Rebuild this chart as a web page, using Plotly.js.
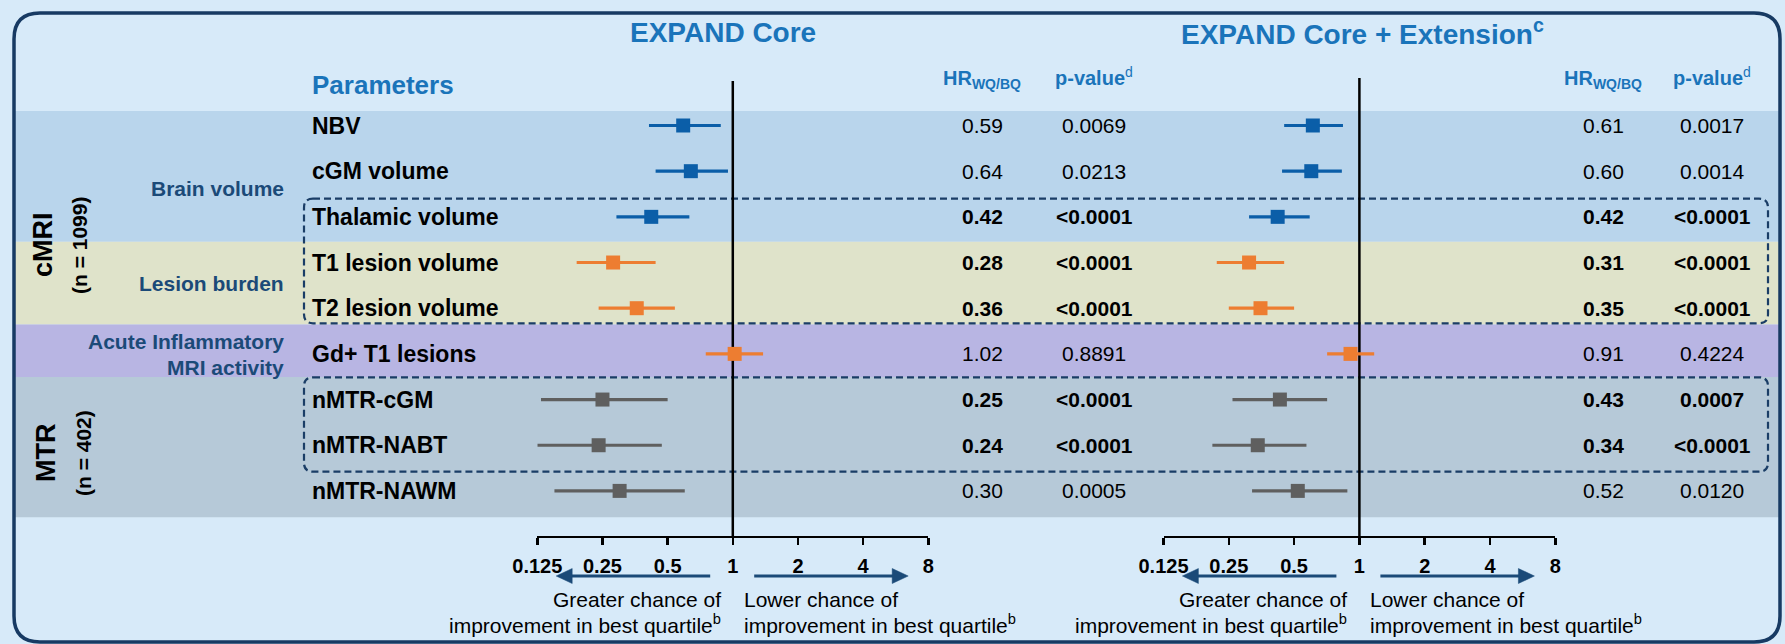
<!DOCTYPE html>
<html><head><meta charset="utf-8">
<script src="https://cdn.plot.ly/plotly-3.0.1.min.js"></script>
<style>html,body{margin:0;padding:0;background:#D7EAF9;overflow:hidden}#chart{width:1785px;height:644px}</style>
</head><body><div id="chart"></div>
<script>
// ---------------- data ----------------
const params = ['NBV','cGM volume','Thalamic volume','T1 lesion volume','T2 lesion volume','Gd+ T1 lesions','nMTR-cGM','nMTR-NABT','nMTR-NAWM'];
const rowGroup = ['brain','brain','brain','lesion','lesion','acute','mtr','mtr','mtr'];
const highlighted = [false,false,true,true,true,false,true,true,false];

const hrCore = [0.59,0.64,0.42,0.28,0.36,1.02,0.25,0.24,0.30];
const loCore = [0.41,0.44,0.29,0.19,0.24,0.75,0.13,0.125,0.15];
const hiCore = [0.88,0.95,0.63,0.44,0.54,1.38,0.50,0.47,0.60];
const pCore  = ['0.0069','0.0213','<0.0001','<0.0001','<0.0001','0.8891','<0.0001','<0.0001','0.0005'];

const hrExt = [0.61,0.60,0.42,0.31,0.35,0.91,0.43,0.34,0.52];
const loExt = [0.45,0.44,0.31,0.22,0.25,0.71,0.26,0.21,0.32];
const hiExt = [0.84,0.83,0.59,0.45,0.50,1.17,0.71,0.57,0.88];
const pExt  = ['0.0017','0.0014','<0.0001','<0.0001','<0.0001','0.4224','0.0007','<0.0001','0.0120'];

const tickVals = [0.125,0.25,0.5,1,2,4,8];
const tickText = ['0.125','0.25','0.5','1','2','4','8'];

// ---------------- style / layout helpers ----------------
const W = 1785, H = 644;
const X = v => v / W;
const Y = v => 1 - v / H;
const FONT = 'Liberation Sans, Arial, Helvetica, sans-serif';
const BLUE_T = '#1A74BA', NAVY = '#1B4A78', BORDER = '#173A63';
const colorOf = {brain:'#0B5EA8', lesion:'#ED7D31', acute:'#ED7D31', mtr:'#5F5F5F'};
const ROW0 = 125.5, ROWH = 45.675;   // pixel of first row, row spacing

function esc(s){ return s.replace(/&/g,'&amp;').replace(/</g,'&lt;').replace(/>/g,'&gt;'); }
const P = (x,y)=> X(x)+','+Y(y);
function roundRect(x0,y0,x1,y1,r){
  return 'M'+P(x0+r,y0)+' L'+P(x1-r,y0)+' Q'+P(x1,y0)+' '+P(x1,y0+r)+
         ' L'+P(x1,y1-r)+' Q'+P(x1,y1)+' '+P(x1-r,y1)+
         ' L'+P(x0+r,y1)+' Q'+P(x0,y1)+' '+P(x0,y1-r)+
         ' L'+P(x0,y0+r)+' Q'+P(x0,y0)+' '+P(x0+r,y0)+' Z';
}

// ---------------- traces ----------------
const traces = [];
function addPanel(hr, lo, hi, xa){
  ['brain','lesion','acute','mtr'].forEach(g=>{
    const idx = params.map((_,i)=>i).filter(i=>rowGroup[i]===g);
    traces.push({
      type:'scatter', mode:'markers', xaxis:xa, yaxis:'y',
      x: idx.map(i=>hr[i]), y: idx,
      marker:{symbol:'square', size:14, color:colorOf[g], line:{width:0}},
      error_x:{type:'data', symmetric:false,
               array: idx.map(i=>hi[i]-hr[i]), arrayminus: idx.map(i=>hr[i]-lo[i]),
               color:colorOf[g], thickness:3.2, width:0},
      hoverinfo:'skip', showlegend:false, cliponaxis:false
    });
  });
}
addPanel(hrCore, loCore, hiCore, 'x');
addPanel(hrExt, loExt, hiExt, 'x2');

// ---------------- shapes ----------------
const shapes = [];
const band = (y0,y1,c)=>shapes.push({type:'rect',xref:'paper',yref:'paper',x0:X(15),x1:X(1779),y0:Y(y0),y1:Y(y1),fillcolor:c,line:{width:0},layer:'below'});
band(111,241.7,'#B9D5EC');
band(241.7,324.5,'#DFE3CA');
band(324.5,377,'#B8B5E3');
band(377,517.3,'#B6C9D8');
// outer rounded border
shapes.push({type:'path',xref:'paper',yref:'paper',path:roundRect(14,13,1780,642,26),line:{color:BORDER,width:3.5},fillcolor:'rgba(0,0,0,0)',layer:'below'});
// dashed highlight boxes
[[198.7,323.3],[377.3,471.7]].forEach(b=>{
  shapes.push({type:'path',xref:'paper',yref:'paper',path:roundRect(304,b[0],1768,b[1],9),line:{color:'#1A3D66',width:2.2,dash:'7px,4px'},fillcolor:'rgba(0,0,0,0)',layer:'below'});
});
// reference lines at HR = 1
shapes.push({type:'line',xref:'x',yref:'paper',x0:1,x1:1,y0:Y(536.5),y1:Y(81),line:{color:'#000',width:2.5},layer:'below'});
shapes.push({type:'line',xref:'x2',yref:'paper',x0:1,x1:1,y0:Y(536.5),y1:Y(78),line:{color:'#000',width:2.5},layer:'below'});
// direction arrows (shaft + triangular head)
function arrow(tail, tip, y){
  const d = Math.sign(tip - tail), hl = 16, hh = 7.5;
  shapes.push({type:'line',xref:'paper',yref:'paper',x0:X(tail),x1:X(tip - d*hl + d*1),y0:Y(y),y1:Y(y),line:{color:NAVY,width:3}});
  shapes.push({type:'path',xref:'paper',yref:'paper',path:'M'+P(tip,y)+' L'+P(tip-d*hl,y-hh)+' L'+P(tip-d*hl,y+hh)+' Z',fillcolor:NAVY,line:{color:NAVY,width:0.5}});
}

// ---------------- annotations ----------------
const ann = [];
const A = (o)=>ann.push(Object.assign({showarrow:false, font:{family:FONT,size:21,color:'#000'}},o));

// titles
A({xref:'paper',yref:'paper',x:X(723),y:Y(32.5),xanchor:'center',yanchor:'middle',text:'<b>EXPAND Core</b>',font:{family:FONT,size:28,color:BLUE_T}});
A({xref:'paper',yref:'paper',x:X(1362),y:Y(32.5),xanchor:'center',yanchor:'middle',text:'<b>EXPAND Core + Extension<sup>c</sup></b>',font:{family:FONT,size:28,color:BLUE_T}});
A({xref:'paper',yref:'paper',x:X(310),y:Y(85),xanchor:'left',yanchor:'middle',text:'<b>Parameters</b>',font:{family:FONT,size:26,color:BLUE_T}});
[[982,1094],[1603,1712]].forEach(c=>{
  A({xref:'paper',yref:'paper',x:X(c[0]),y:Y(79),xanchor:'center',yanchor:'middle',text:'<b>HR<sub>WQ/BQ</sub></b>',font:{family:FONT,size:20,color:BLUE_T}});
  A({xref:'paper',yref:'paper',x:X(c[1]),y:Y(77),xanchor:'center',yanchor:'middle',text:'<b>p-value</b><sup>d</sup>',font:{family:FONT,size:20,color:BLUE_T}});
});

// row labels and values
params.forEach((p,i)=>{
  A({xref:'paper',yref:'y',x:X(310),y:i,xanchor:'left',yanchor:'middle',text:'<b>'+esc(p)+'</b>',font:{family:FONT,size:23,color:'#000'}});
  const b = s => highlighted[i] ? '<b>'+s+'</b>' : s;
  A({xref:'paper',yref:'y',x:X(982),y:i,xanchor:'center',yanchor:'middle',text:b(hrCore[i].toFixed(2))});
  A({xref:'paper',yref:'y',x:X(1094),y:i,xanchor:'center',yanchor:'middle',text:b(esc(pCore[i]))});
  A({xref:'paper',yref:'y',x:X(1603),y:i,xanchor:'center',yanchor:'middle',text:b(hrExt[i].toFixed(2))});
  A({xref:'paper',yref:'y',x:X(1712),y:i,xanchor:'center',yanchor:'middle',text:b(esc(pExt[i]))});
});

// group labels
const gfont = {family:FONT,size:21,color:NAVY};
A({xref:'paper',yref:'paper',x:X(286),y:Y(188),xanchor:'right',yanchor:'middle',text:'<b>Brain volume</b>',font:gfont});
A({xref:'paper',yref:'paper',x:X(286),y:Y(283),xanchor:'right',yanchor:'middle',text:'<b>Lesion burden</b>',font:gfont});
A({xref:'paper',yref:'paper',x:X(286),y:Y(341),xanchor:'right',yanchor:'middle',text:'<b>Acute Inflammatory</b>',font:gfont});
A({xref:'paper',yref:'paper',x:X(286),y:Y(367),xanchor:'right',yanchor:'middle',text:'<b>MRI activity</b>',font:gfont});
// rotated section labels
A({xref:'paper',yref:'paper',x:X(43),y:Y(245),xanchor:'center',yanchor:'middle',textangle:-90,text:'<b>cMRI</b>',font:{family:FONT,size:27,color:'#000'}});
A({xref:'paper',yref:'paper',x:X(79),y:Y(246),xanchor:'center',yanchor:'middle',textangle:-90,text:'<b>(n = 1099)</b>',font:{family:FONT,size:21,color:'#000'}});
A({xref:'paper',yref:'paper',x:X(46),y:Y(453),xanchor:'center',yanchor:'middle',textangle:-90,text:'<b>MTR</b>',font:{family:FONT,size:27,color:'#000'}});
A({xref:'paper',yref:'paper',x:X(83),y:Y(453),xanchor:'center',yanchor:'middle',textangle:-90,text:'<b>(n = 402)</b>',font:{family:FONT,size:21,color:'#000'}});

// direction arrows and captions
[733.2,1359.4].forEach(c=>{
  arrow(c-23, c-177, 576);
  arrow(c+21, c+175, 576);
  A({xref:'paper',yref:'paper',x:X(c-10),y:Y(599),xanchor:'right',yanchor:'middle',text:'Greater chance of'});
  A({xref:'paper',yref:'paper',x:X(c-10),y:Y(624),xanchor:'right',yanchor:'middle',text:'improvement in best quartile<sup>b</sup>'});
  A({xref:'paper',yref:'paper',x:X(c+9),y:Y(599),xanchor:'left',yanchor:'middle',text:'Lower chance of'});
  A({xref:'paper',yref:'paper',x:X(c+9),y:Y(624),xanchor:'left',yanchor:'middle',text:'improvement in best quartile<sup>b</sup>'});
});

// ---------------- axes ----------------
const xAxisBase = {
  type:'log', range:[Math.log10(0.125), Math.log10(8)], anchor:'free', position:Y(536.5),
  showgrid:false, zeroline:false, showline:true, linecolor:'#000', linewidth:2.5,
  ticks:'outside', ticklen:7, tickwidth:2.5, tickcolor:'#000',
  tickvals:tickVals, ticktext:tickText,
  tickfont:{family:FONT,size:20,color:'#000',weight:'bold'}, ticklabelstandoff:4,
  automargin:false, fixedrange:true
};
const layout = {
  width:W, height:H, margin:{l:0,r:0,t:0,b:0},
  paper_bgcolor:'#D7EAF9', plot_bgcolor:'rgba(0,0,0,0)',
  showlegend:false,
  xaxis:Object.assign({}, xAxisBase, {domain:[X(537.3), X(928.3)]}),
  xaxis2:Object.assign({}, xAxisBase, {domain:[X(1163.5), X(1555.3)]}),
  yaxis:{domain:[0,1], range:[(H-ROW0)/ROWH, -ROW0/ROWH], visible:false, showgrid:false, zeroline:false, fixedrange:true},
  shapes:shapes, annotations:ann,
  font:{family:FONT}
};
Plotly.newPlot('chart', traces, layout, {staticPlot:true, displayModeBar:false});
</script></body></html>
